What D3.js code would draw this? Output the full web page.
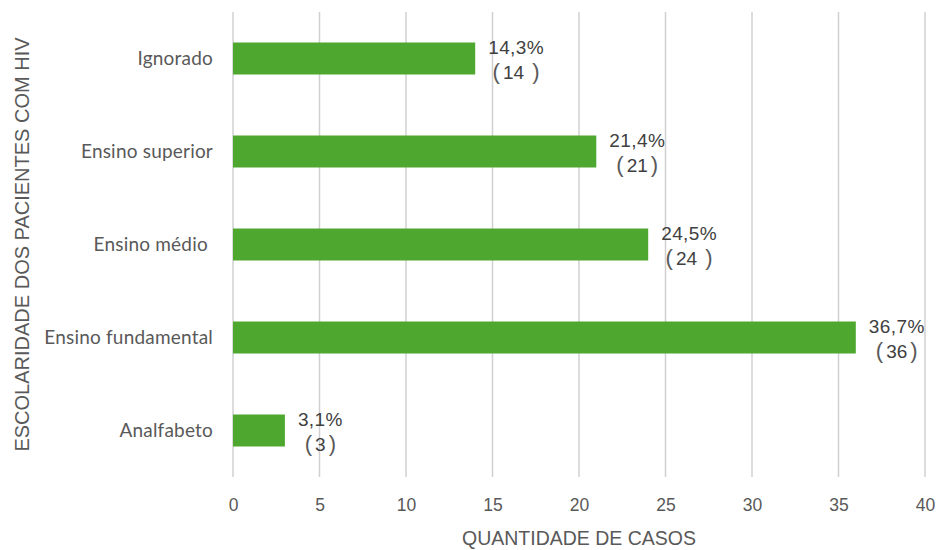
<!DOCTYPE html>
<html>
<head>
<meta charset="utf-8">
<script src="https://cdn.jsdelivr.net/npm/d3@7"></script>
<style>
  body { margin: 0; background: #fff; }
  svg { display: block; }
</style>
</head>
<body>
<svg id="chart" width="939" height="550"></svg>
<script>
'use strict';

// data, top to bottom as in the picture
var categories = ['Ignorado', 'Ensino superior', 'Ensino médio ', 'Ensino fundamental', 'Analfabeto'];
var cases = [14, 21, 24, 36, 3];
var percents = ['14,3%', '21,4%', '24,5%', '36,7%', '3,1%'];
var countLabels = ['14 ', '21', '24 ', '36', '3'];
var xTicks = [0, 5, 10, 15, 20, 25, 30, 35, 40];

var svg = d3.select('#chart');
var margin = {top: 12, right: 14, bottom: 73, left: 233};
var W = 939, H = 550;

var x = d3.scaleLinear().domain([0, 40]).range([margin.left, W - margin.right]);
var y = d3.scaleBand().domain(categories)
	.range([margin.top, H - margin.bottom])
	.paddingInner(0.656).paddingOuter(0.328);

//Gridlines
svg.append('g').selectAll('line')
	.data(xTicks).enter().append('line')
	.attr('x1', function(d){ return x(d); })
	.attr('x2', function(d){ return x(d); })
	.attr('y1', margin.top)
	.attr('y2', H - margin.bottom)
	.attr('stroke', '#d0d0d0')
	.attr('stroke-width', 1.5);

//X axis tick labels
var xAxis = d3.axisBottom(x).tickValues(xTicks).tickSize(0).tickPadding(0);
var xg = svg.append('g')
	.attr('transform', 'translate(0,' + (H - margin.bottom + 22) + ')')
	.call(xAxis);
xg.select('.domain').remove();
xg.selectAll('text')
	.attr('font-family', 'Liberation Sans, Arial, sans-serif')
	.attr('font-size', 17.5)
	.attr('fill', '#595959');

//Y axis category labels
var yAxis = d3.axisLeft(y).tickSize(0).tickPadding(0);
var yg = svg.append('g')
	.attr('transform', 'translate(' + (margin.left - 20) + ',0)')
	.call(yAxis);
yg.select('.domain').remove();
yg.selectAll('text')
	.attr('font-family', 'Lato, sans-serif')
	.attr('font-size', 19)
	.attr('letter-spacing', 0.2)
	.attr('fill', '#595959')
	.style('white-space', 'pre');

//Bars
var rows = categories.map(function(c, i){
	return {cat: c, v: cases[i], pct: percents[i], cnt: countLabels[i]};
});

svg.append('g').selectAll('rect')
	.data(rows).enter().append('rect')
	.attr('x', x(0))
	.attr('y', function(d){ return y(d.cat); })
	.attr('width', function(d){ return x(d.v) - x(0); })
	.attr('height', y.bandwidth())
	.attr('fill', '#4ea72e');

//Value labels: percent on top, count in parens centred below it
var labels = svg.append('g').selectAll('g')
	.data(rows).enter().append('g');

labels.each(function(d){
	var g = d3.select(this);
	var cy = y(d.cat) + y.bandwidth() / 2;
	var t1 = g.append('text')
		.attr('x', x(d.v) + 13)
		.attr('y', cy - 5)
		.attr('font-family', 'Liberation Sans, Arial, sans-serif')
		.attr('font-size', 19)
		.attr('letter-spacing', 0.4)
		.attr('fill', '#404040')
		.text(d.pct);
	var w = t1.node().getComputedTextLength();
	var t2 = g.append('text')
		.attr('x', x(d.v) + 13 + w / 2)
		.attr('y', cy + 20)
		.attr('text-anchor', 'middle')
		.attr('font-family', 'Liberation Sans, Arial, sans-serif')
		.attr('font-size', 19)
		.attr('fill', '#404040')
		.style('white-space', 'pre');
	t2.append('tspan').attr('font-size', 22).attr('fill', '#595959').text('(');
	t2.append('tspan').attr('dx', 3).text(d.cnt);
	t2.append('tspan').attr('dx', 3).attr('font-size', 22).attr('fill', '#595959').text(')');
});

//Axis titles
svg.append('text')
	.attr('x', (margin.left + W - margin.right) / 2)
	.attr('y', 545)
	.attr('text-anchor', 'middle')
	.attr('font-family', 'Liberation Sans, Arial, sans-serif')
	.attr('font-size', 19.5)
	.attr('fill', '#595959')
	.text('QUANTIDADE DE CASOS');

svg.append('text')
	.attr('transform', 'translate(29,' + ((margin.top + H - margin.bottom) / 2) + ') rotate(-90)')
	.attr('text-anchor', 'middle')
	.attr('font-family', 'Liberation Sans, Arial, sans-serif')
	.attr('font-size', 20)
	.attr('fill', '#595959')
	.text('ESCOLARIDADE DOS PACIENTES COM HIV');
</script>
</body>
</html>
